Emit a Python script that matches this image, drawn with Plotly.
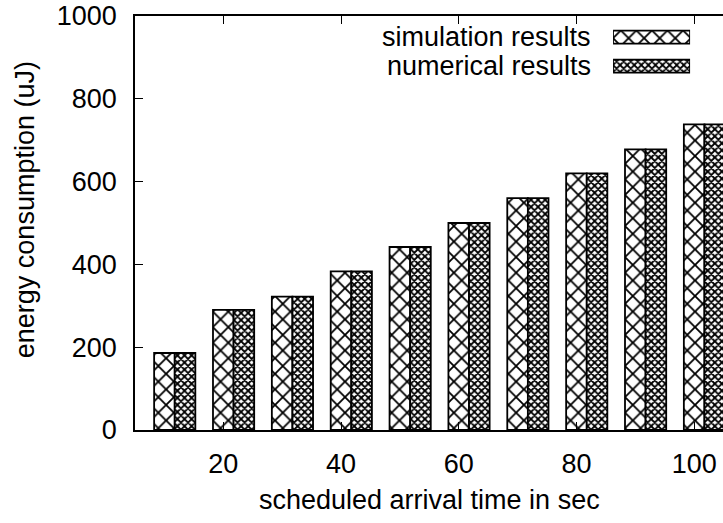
import plotly.graph_objects as go

# ---- data ----
arrival_time = [10, 20, 30, 40, 50, 60, 70, 80, 90, 100]
simulation_results = [186, 290, 322, 383, 442, 500, 560, 620, 678, 738]
numerical_results = [186, 290, 322, 383, 442, 500, 560, 620, 678, 738]
series_names = ["simulation results", "numerical results"]
x_tick_vals = [20, 40, 60, 80, 100]
y_tick_vals = [0, 200, 400, 600, 800, 1000]
x_title = "scheduled arrival time in sec"
y_title = "energy consumption (uJ)"

FONT = dict(family="Liberation Sans, Arial, Helvetica, sans-serif", size=27, color="black")
BAR_W = 3.5

sim_marker = dict(color="white", line=dict(color="black", width=1.8),
                  pattern=dict(shape="x", size=11, solidity=0.3, fgopacity=1,
                               fgcolor="black", bgcolor="white"))
num_marker = dict(color="white", line=dict(color="black", width=1.8),
                  pattern=dict(shape="x", size=5, solidity=0.6, fgopacity=1,
                               fgcolor="black", bgcolor="white"))

fig = go.Figure()
fig.add_bar(x=arrival_time, y=simulation_results, name=series_names[0],
            width=BAR_W, offset=-BAR_W / 2, marker=sim_marker, showlegend=False)
fig.add_bar(x=arrival_time, y=numerical_results, name=series_names[1],
            width=BAR_W, offset=BAR_W / 2, marker=num_marker, showlegend=False)

# legend key boxes (gnuplot style: text on the left, wide sample box on the right)
fig.add_bar(x=[1], y=[series_names[0]], orientation="h", xaxis="x3", yaxis="y3",
            width=0.45, marker=sim_marker, showlegend=False, hoverinfo="skip")
fig.add_bar(x=[1], y=[series_names[1]], orientation="h", xaxis="x3", yaxis="y3",
            width=0.45, marker=num_marker, showlegend=False, hoverinfo="skip")

annotations = []
for i, name in enumerate(series_names):
    annotations.append(dict(text=name, xref="paper", yref="paper",
                            x=0.779, y=[0.949, 0.879][i], xanchor="right",
                            yanchor="middle", showarrow=False, font=FONT))
# axis titles
annotations.append(dict(text=y_title, xref="paper", yref="paper", x=-0.187, y=0.531,
                        xanchor="center", yanchor="middle", textangle=-90,
                        showarrow=False, font=FONT))
annotations.append(dict(text=x_title, xref="paper", yref="paper", x=0.5, y=-0.17,
                        xanchor="center", yanchor="middle",
                        showarrow=False, font=FONT))

axis_common = dict(showgrid=False, zeroline=False, ticks="inside", ticklen=8,
                   tickwidth=1, tickcolor="black", linecolor="black", linewidth=1.5,
                   tickfont=FONT)

fig.update_layout(
    width=723, height=523,
    margin=dict(l=135, r=0, t=16, b=93),
    paper_bgcolor="white", plot_bgcolor="white",
    barmode="overlay", font=FONT,
    xaxis=dict(range=[5, 104.9], tickvals=x_tick_vals, showline=True, mirror="ticks",
               ticklabelstandoff=9, **axis_common),
    yaxis=dict(range=[0, 1000], tickvals=y_tick_vals, showline=True, mirror=False,
               ticklabelstandoff=11, **axis_common),
    yaxis2=dict(range=[0, 1000], tickvals=y_tick_vals, overlaying="y", side="right",
                anchor="x", showticklabels=False, showline=False, showgrid=False,
                zeroline=False, ticks="inside", ticklen=8, tickcolor="black"),
    xaxis3=dict(domain=[0.813, 0.944], anchor="y3", range=[0, 1], visible=False),
    yaxis3=dict(domain=[0.844, 0.984], anchor="x3", type="category",
                categoryorder="array", categoryarray=[series_names[1], series_names[0]],
                range=[-0.5, 1.5], visible=False),
    annotations=annotations,
)

fig.write_html("out.html")
